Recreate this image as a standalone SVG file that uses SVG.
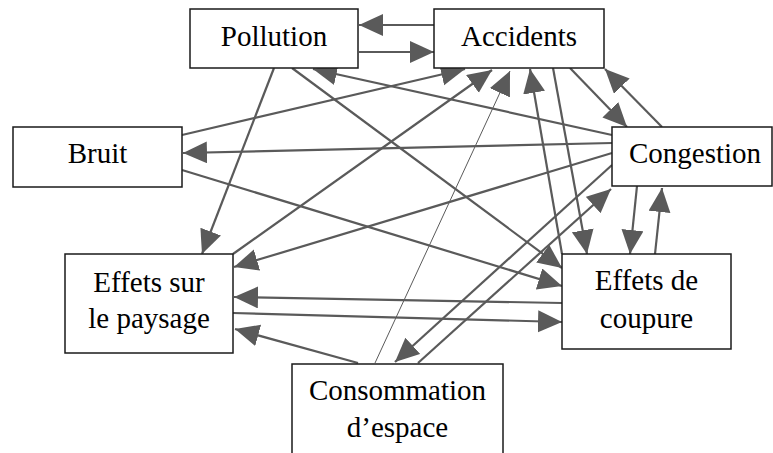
<svg xmlns="http://www.w3.org/2000/svg" width="773" height="453" viewBox="0 0 773 453">
<style>
.box{fill:#fff;stroke:#1a1a1a;stroke-width:1.5}
.lbl{font-size:29px;fill:#000;text-anchor:middle}
.e{stroke:#5a5a5a;stroke-width:2.2;fill:none;marker-end:url(#ah)}
.thin{stroke-width:1}
</style>
<defs>
<marker id="ah" markerUnits="userSpaceOnUse" markerWidth="25" markerHeight="23" refX="24" refY="11" orient="auto">
<path d="M0,0 L24,11 L0,22 z" fill="#5a5a5a"/>
</marker>
</defs>
<rect width="773" height="453" fill="#fff"/>
<g id="connectors">
<line class="e" x1="434" y1="25" x2="359" y2="25"/>
<line class="e" x1="359" y1="52" x2="434" y2="52"/>
<line class="e" x1="274" y1="68" x2="202" y2="254"/>
<line class="e" x1="292" y1="68" x2="562" y2="268"/>
<line class="e" x1="612" y1="135" x2="313" y2="69"/>
<line class="e" x1="182" y1="135" x2="465" y2="69"/>
<line class="e" x1="233" y1="254" x2="492" y2="70"/>
<line class="e thin" x1="375" y1="363" x2="510" y2="71"/>
<line class="e" x1="562" y1="254" x2="530" y2="69"/>
<line class="e" x1="553" y1="68" x2="587" y2="254"/>
<line class="e" x1="570" y1="68" x2="627" y2="127"/>
<line class="e" x1="662" y1="127" x2="605" y2="69"/>
<line class="e" x1="612" y1="143" x2="183" y2="153"/>
<line class="e" x1="612" y1="153" x2="234" y2="267"/>
<line class="e" x1="612" y1="165" x2="395" y2="362"/>
<line class="e" x1="418" y1="363" x2="611" y2="189"/>
<line class="e" x1="637" y1="186" x2="630" y2="254"/>
<line class="e" x1="655" y1="254" x2="662" y2="188"/>
<line class="e" x1="182" y1="170" x2="562" y2="286"/>
<line class="e" x1="562" y1="303" x2="234" y2="297"/>
<line class="e" x1="233" y1="313" x2="562" y2="322"/>
<line class="e" x1="358" y1="363" x2="235" y2="329"/>
</g>
<g font-family="'Liberation Serif', 'DejaVu Serif', 'Times New Roman', serif">
<g id="pollution"><rect class="box" x="190" y="9" width="168" height="59"/><text class="lbl" x="274" y="46">Pollution</text></g>
<g id="accidents"><rect class="box" x="434" y="9" width="170" height="59"/><text class="lbl" x="519" y="46">Accidents</text></g>
<g id="bruit"><rect class="box" x="13" y="127" width="169" height="60"/><text class="lbl" x="97.5" y="163">Bruit</text></g>
<g id="congestion"><rect class="box" x="612" y="127" width="160" height="59"/><text class="lbl" x="695" y="163">Congestion</text></g>
<g id="paysage"><rect class="box" x="65" y="254" width="168" height="99"/><text class="lbl" x="149" y="292">Effets sur</text><text class="lbl" x="149" y="328">le paysage</text></g>
<g id="coupure"><rect class="box" x="562" y="254" width="169" height="95"/><text class="lbl" x="646.5" y="290">Effets de</text><text class="lbl" x="646.5" y="328">coupure</text></g>
<g id="consommation"><rect class="box" x="292" y="364" width="211" height="100"/><text class="lbl" x="397.5" y="400">Consommation</text><text class="lbl" x="397.5" y="437">d’espace</text></g>
</g>
</svg>
